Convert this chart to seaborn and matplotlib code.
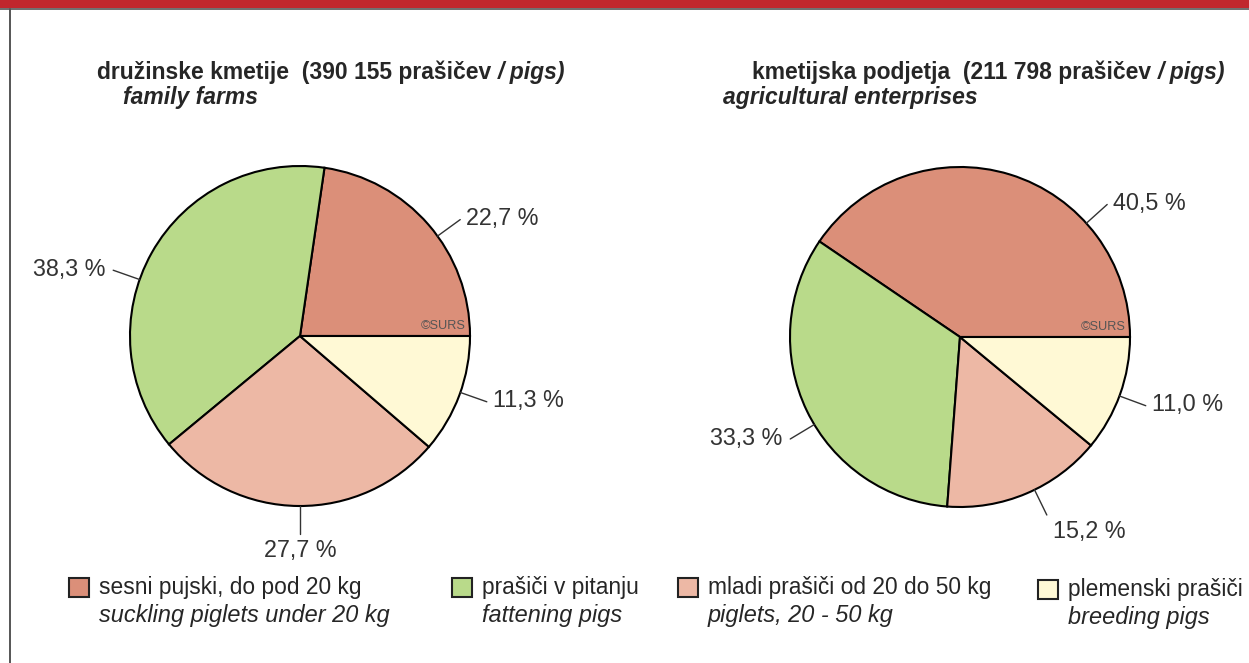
import matplotlib
matplotlib.use("Agg")
import numpy as np
import pandas as pd
import seaborn as sns
import matplotlib.pyplot as plt
from matplotlib.patches import Rectangle

# ---- data -------------------------------------------------------------
categories_sl = ["sesni pujski, do pod 20 kg", "prašiči v pitanju",
                 "mladi prašiči od 20 do 50 kg", "plemenski prašiči"]
categories_en = ["suckling piglets under 20 kg", "fattening pigs",
                 "piglets, 20 - 50 kg", "breeding pigs"]
family_farms_pct = [22.7, 38.3, 27.7, 11.3]
enterprises_pct = [40.5, 33.3, 15.2, 11.0]
family_total = "390 155"
enterprises_total = "211 798"

colors = ["#DB8F79", "#B9DA8A", "#EDB8A5", "#FFF9D5"]

df = pd.DataFrame({
    "category": categories_sl,
    "family": family_farms_pct,
    "enterprise": enterprises_pct,
})

# ---- style ------------------------------------------------------------
sns.set_theme(style="white")
palette = sns.color_palette(colors)
plt.rcParams["font.family"] = ["Liberation Sans", "DejaVu Sans"]
TXT = "#262626"

W, H = 1249, 663
fig = plt.figure(figsize=(W / 100, H / 100), dpi=100)
fig.patch.set_facecolor("white")


def fx(px):
    return px / W


def fy(py):
    return 1 - py / H


# frame: red band along the top, grey rule below it and on the left
fig.add_artist(Rectangle((0, fy(8)), 1, 8 / H, transform=fig.transFigure,
                         facecolor="#C1272D", edgecolor="none"))
fig.add_artist(plt.Line2D([0, 1], [fy(8.8), fy(8.8)], transform=fig.transFigure,
                          color="#555555", lw=1.2))
fig.add_artist(plt.Line2D([fx(10), fx(10)], [fy(9), 0], transform=fig.transFigure,
                          color="#555555", lw=1.4))

renderer = fig.canvas.get_renderer()


def text_runs(x_px, y_px, runs, size=16.5):
    """Draw consecutive text pieces with differing styles on one baseline."""
    x = x_px
    for s, weight, style in runs:
        t = fig.text(fx(x), fy(y_px), s, fontsize=size, fontweight=weight,
                     fontstyle=style, color=TXT, va="baseline", ha="left")
        x = t.get_window_extent(renderer).x1
    return x


def draw_pie(center_px, radius_px, values, label_angles):
    cx, cy = center_px
    ax = fig.add_axes([fx(cx - radius_px), fy(cy + radius_px),
                       2 * radius_px / W, 2 * radius_px / H])
    ax.pie(values, colors=palette, startangle=0, counterclock=True,
           radius=1.0,
           wedgeprops=dict(edgecolor="black", linewidth=1.5))
    ax.set_xlim(-1, 1)
    ax.set_ylim(-1, 1)
    ax.set_aspect("equal")
    ax.axis("off")

    for v, ang in zip(values, label_angles):
        a = np.deg2rad(ang)
        c, s = np.cos(a), np.sin(a)
        r0, r1 = 1.0, 1.165
        ax.plot([r0 * c, r1 * c], [r0 * s, r1 * s], color="#333333",
                lw=1.0, clip_on=False)
        if abs(c) < 0.2:
            ha, dx = "center", 0
        elif c > 0:
            ha, dx = "left", 6
        else:
            ha, dx = "right", -8
        if s < -0.8:
            va, dy = "top", -5
        else:
            va, dy = "center", 1
        label = f"{v:.1f}".replace(".", ",") + " %"
        ax.annotate(label, xy=(r1 * c, r1 * s), xytext=(dx, dy),
                    textcoords="offset pixels", ha=ha, va=va,
                    fontsize=16.8, color="#333333", annotation_clip=False)

    ax.text(0.975, 0.025, "©SURS", ha="right", va="bottom", fontsize=9.2,
            color="#555555")
    return ax


draw_pie((300, 336), 170, df["family"].tolist(), [36, 160.6, 270, 340.6])
draw_pie((960, 337), 170, df["enterprise"].tolist(), [42, 211, 296, 339.7])

# headings
text_runs(97, 79, [(f"družinske kmetije  ({family_total} prašičev ", "bold", "normal"),
                   ("/ pigs)", "bold", "italic")])
text_runs(123, 104, [("family farms", "bold", "italic")])
text_runs(752, 79, [(f"kmetijska podjetja  ({enterprises_total} prašičev ", "bold", "normal"),
                    ("/ pigs)", "bold", "italic")])
text_runs(723, 104, [("agricultural enterprises", "bold", "italic")])

# legend
legend_x = [69, 452, 678, 1038]
for i, (sl, en) in enumerate(zip(categories_sl, categories_en)):
    x0 = legend_x[i]
    y0 = 578 if i < 3 else 580
    fig.add_artist(Rectangle((fx(x0), fy(y0 + 19)), 20 / W, 19 / H,
                             transform=fig.transFigure, facecolor=palette[i],
                             edgecolor="#222222", lw=1.5))
    fig.text(fx(x0 + 30), fy(y0 + 16), sl, fontsize=16.4, color=TXT,
             va="baseline", ha="left")
    fig.text(fx(x0 + 30), fy(y0 + 44), en, fontsize=16.9, color=TXT,
             fontstyle="italic", va="baseline", ha="left")

fig.savefig("out.png", dpi=100, facecolor="white")
